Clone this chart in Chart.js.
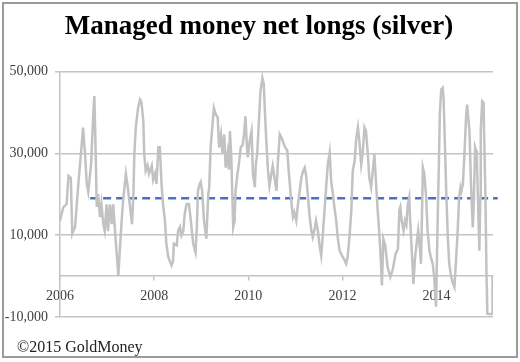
<!DOCTYPE html>
<html>
<head>
<meta charset="utf-8">
<script src="https://cdn.jsdelivr.net/npm/chart.js@4.4.1/dist/chart.umd.min.js"></script>
<style>
  body { margin: 0; background: #fff; }
  #wrap { position: relative; width: 520px; height: 362px; }
  #myChart { position: absolute; left: 0; top: 0; }
  #frame {
    position: absolute; left: 2px; top: 2px;
    width: 512px; height: 352px;
    border: 2px solid #9a9a9a;
    pointer-events: none;
  }
  #source {
    position: absolute; left: 17px; top: 339px;
    font: 16px/16px 'Liberation Serif', 'Times New Roman', serif;
    color: #222;
    white-space: nowrap;
  }
</style>
</head>
<body>
<div id="wrap">
  <canvas id="myChart" width="520" height="362"></canvas>
  <div id="source">©2015 GoldMoney</div>
  <div id="frame"></div>
</div>
<script>
// weekly-ish readings, decimal years
const years = [
  2006.00, 2006.07, 2006.14, 2006.18, 2006.23, 2006.26, 2006.32, 2006.39, 2006.46, 2006.49,
  2006.53, 2006.57, 2006.60, 2006.66, 2006.71, 2006.73, 2006.76, 2006.78, 2006.81, 2006.85,
  2006.88, 2006.92, 2006.95, 2006.99, 2007.02, 2007.06, 2007.10, 2007.13, 2007.17, 2007.20,
  2007.24, 2007.27, 2007.31, 2007.34, 2007.40, 2007.44, 2007.49, 2007.53, 2007.56, 2007.58,
  2007.61, 2007.66, 2007.70, 2007.73, 2007.77, 2007.79, 2007.82, 2007.86, 2007.89, 2007.95,
  2007.98, 2008.02, 2008.05, 2008.09, 2008.12, 2008.16, 2008.19, 2008.23, 2008.26, 2008.30,
  2008.37, 2008.40, 2008.42, 2008.48, 2008.51, 2008.55, 2008.58, 2008.62, 2008.65, 2008.69,
  2008.74, 2008.78, 2008.83, 2008.88, 2008.91, 2008.93, 2008.97, 2008.99, 2009.02, 2009.06,
  2009.11, 2009.15, 2009.17, 2009.20, 2009.24, 2009.27, 2009.31, 2009.35, 2009.38, 2009.42,
  2009.45, 2009.49, 2009.52, 2009.56, 2009.59, 2009.61, 2009.64, 2009.68, 2009.71, 2009.73,
  2009.77, 2009.80, 2009.84, 2009.88, 2009.91, 2009.94, 2009.97, 2009.99, 2010.03, 2010.07,
  2010.10, 2010.14, 2010.16, 2010.19, 2010.23, 2010.26, 2010.30, 2010.33, 2010.35, 2010.38,
  2010.42, 2010.45, 2010.52, 2010.60, 2010.63, 2010.67, 2010.72, 2010.77, 2010.83, 2010.86,
  2010.90, 2010.95, 2010.98, 2011.02, 2011.05, 2011.09, 2011.13, 2011.16, 2011.20, 2011.23,
  2011.27, 2011.30, 2011.34, 2011.37, 2011.41, 2011.44, 2011.48, 2011.51, 2011.55, 2011.58,
  2011.62, 2011.66, 2011.69, 2011.73, 2011.76, 2011.80, 2011.83, 2011.87, 2011.90, 2011.94,
  2011.97, 2012.01, 2012.04, 2012.08, 2012.11, 2012.15, 2012.19, 2012.22, 2012.26, 2012.29,
  2012.33, 2012.36, 2012.40, 2012.43, 2012.47, 2012.50, 2012.54, 2012.57, 2012.61, 2012.64,
  2012.68, 2012.72, 2012.75, 2012.79, 2012.82, 2012.84, 2012.87, 2012.91, 2012.96, 2013.02,
  2013.07, 2013.13, 2013.18, 2013.21, 2013.23, 2013.26, 2013.30, 2013.33, 2013.36, 2013.39,
  2013.42, 2013.44, 2013.47, 2013.51, 2013.54, 2013.58, 2013.61, 2013.65, 2013.67, 2013.69,
  2013.71, 2013.74, 2013.78, 2013.81, 2013.85, 2013.88, 2013.92, 2013.95, 2013.99, 2014.02,
  2014.05, 2014.07, 2014.10, 2014.13, 2014.15, 2014.18, 2014.21, 2014.24, 2014.27, 2014.31,
  2014.34, 2014.38, 2014.41, 2014.45, 2014.48, 2014.51, 2014.53, 2014.56, 2014.59, 2014.63,
  2014.65, 2014.68, 2014.70, 2014.73, 2014.77, 2014.79, 2014.82, 2014.84, 2014.86, 2014.89,
  2014.91, 2014.93, 2014.94, 2014.97, 2015.00, 2015.01, 2015.04, 2015.06, 2015.08, 2015.16,
  2015.18, 2015.19
];

const netLongs = [
  13500, 16800, 17600, 24500, 24000, 10300, 12000, 22500, 32000, 36300,
  30000, 22400, 20500, 27300, 40300, 44000, 29000, 16900, 20000, 14400,
  17600, 12700, 11000, 17500, 11000, 17500, 12700, 17500, 11000, 6200,
  100, 6200, 13500, 18400, 24900, 21700, 16800, 12700, 20000, 29800,
  36300, 41200, 43100, 42500, 37900, 29800, 25700, 27000, 25000, 27000,
  23500, 25000, 22500, 31500, 31500, 22000, 17400, 13500, 7900, 4700,
  2600, 3500, 7900, 7500, 11100, 12000, 9900, 11000, 15200, 17600,
  17600, 13500, 7900, 5800, 12700, 20800, 22500, 23000, 20800, 13500,
  9100, 20000, 21500, 31400, 37000, 41100, 39500, 38800, 31400, 34600,
  30000, 34600, 26500, 30000, 26000, 35400, 29000, 11900, 13500, 20800,
  24900, 27300, 31400, 32000, 34600, 39000, 32000, 29000, 33000, 35400,
  24900, 21700, 27300, 29800, 38700, 45200, 48400, 46800, 41100, 33800,
  25700, 22000, 26900, 20800, 28000, 34600, 33500, 31800, 30600, 25700,
  20000, 14400, 15500, 13500, 17000, 20500, 24100, 25500, 26500, 24500,
  19200, 15000, 11100, 9500, 11500, 13500, 11000, 7900, 5000, 9500,
  16000, 22500, 27300, 30200, 23300, 20000, 16800, 13500, 9500, 6200,
  5500, 4600, 4000, 3000, 4600, 9500, 16000, 25700, 28100, 33000,
  36300, 33000, 27300, 30000, 36300, 35500, 30000, 24100, 21700, 25000,
  29800, 21700, 16000, 9500, 3000, -2300, 9100, 7500, 2200, -200,
  1600, 5400, 6600, 16000, 16800, 13500, 11100, 13500, 12500, 17500,
  19200, 13500, 7100, -1900, 4000, 8300, 11100, 6200, 3000, 14400,
  26500, 25000, 19200, 11100, 6200, 4600, 3000, -200, -7500, 11100,
  27300, 39500, 45600, 46000, 43500, 31400, 19200, 9500, 3000, 0,
  -1500, -2700, 3000, 11100, 19200, 21700, 20800, 22500, 29000, 39500,
  41900, 37900, 35400, 23300, 11900, 17600, 31400, 30600, 27300, 15200,
  6200, 19200, 35400, 42700, 42300, 35400, 19200, 1400, -9200, -9300,
  -9200, 0
];

// long-run average, dashed
const avgYears = [2006.64, 2015.30];
const avgValue = 19000;

const serif = "'Liberation Serif', 'Times New Roman', serif";
const gridGray = "#c4c4c4";

const data = {
  datasets: [
    {
      data: years.map((y, i) => ({ x: y, y: netLongs[i] })),
      borderColor: "#c2c2c2",
      borderWidth: 2.5,
      pointRadius: 0,
      tension: 0,
    },
    {
      data: avgYears.map((y) => ({ x: y, y: avgValue })),
      borderColor: "#4472c4",
      borderWidth: 2.5,
      borderDash: [8, 5],
      pointRadius: 0,
      clip: false,
    },
  ],
};

//config
const config = {
  type: "line",
  data,
  options: {
    responsive: false,
    animation: false,
    layout: {
      padding: { top: 5, left: 2, right: 4, bottom: 45 },
    },
    scales: {
      x: {
        type: "linear",
        position: { y: 0 },
        min: 2006,
        max: 2015.2,
        afterFit: (scale) => {
          scale.height = 0;
        },
        grid: {
          drawOnChartArea: false,
          tickLength: 4,
          color: gridGray,
          lineWidth: 1.5,
        },
        border: { color: gridGray, width: 1.5 },
        ticks: {
          stepSize: 2,
          includeBounds: false,
          maxRotation: 0,
          autoSkip: false,
          padding: 8,
          color: "#404040",
          font: { family: serif, size: 14 },
          callback: (v) => String(v),
        },
      },
      y: {
        min: -10000,
        max: 50000,
        afterFit: (scale) => {
          scale.width = 58;
        },
        grid: { color: gridGray, lineWidth: 1.5, tickLength: 5 },
        border: { color: gridGray, width: 1.5 },
        ticks: {
          stepSize: 20000,
          padding: 7,
          color: "#404040",
          font: { family: serif, size: 14 },
          callback: (v) => v.toLocaleString("en-US"),
        },
      },
      // empty strip on the right so the title sits where it does in the original
      yRight: {
        position: "right",
        afterFit: (scale) => {
          scale.width = 23;
        },
        grid: { display: false },
        border: { display: false },
        ticks: { display: false },
      },
    },
    plugins: {
      legend: { display: false },
      tooltip: { enabled: false },
      title: {
        display: true,
        text: "Managed money net longs (silver)",
        color: "#000",
        font: { family: serif, size: 27, weight: "bold" },
        padding: { top: 6, bottom: 28 },
      },
    },
  },
};

//create chart
const myChart = new Chart(document.getElementById("myChart"), config);
</script>
</body>
</html>
